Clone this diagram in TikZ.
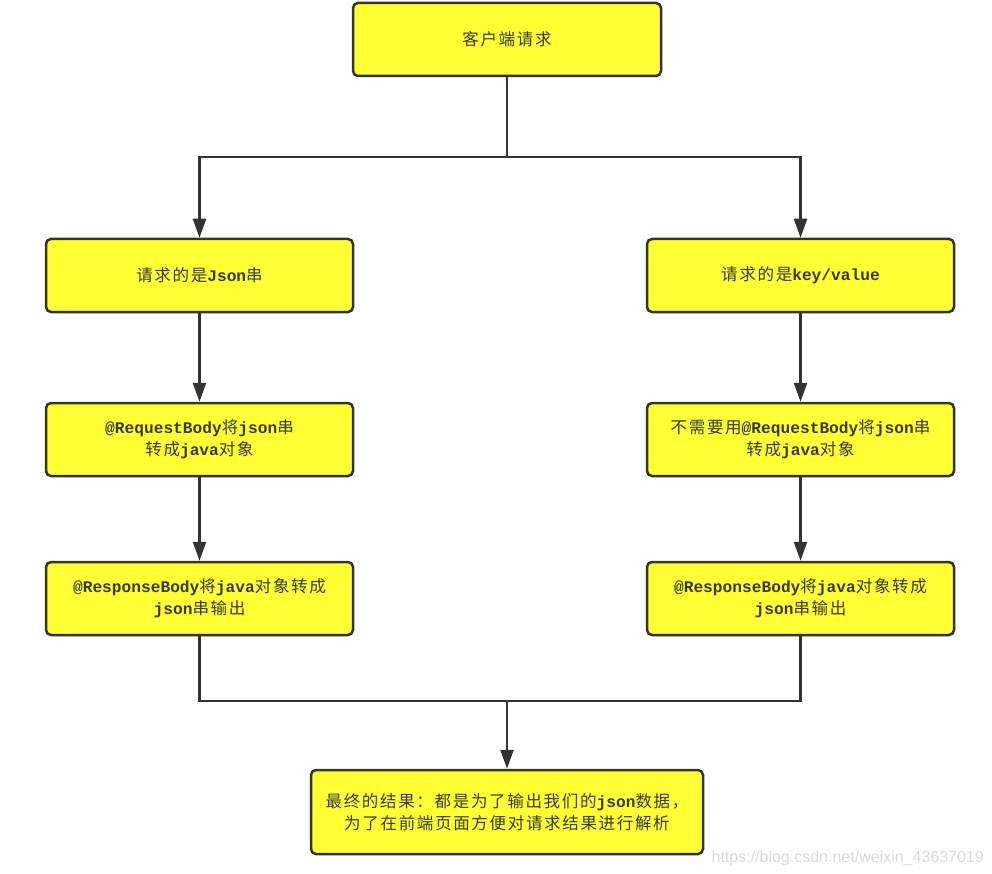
\documentclass[tikz,border=0pt]{standalone}
\usepackage{fontspec}
\setmainfont{Liberation Mono}
\newfontfamily\cjk{Noto Sans CJK SC}[Scale=1.02, LetterSpace=10]
\newfontfamily\wmfont{Liberation Sans}
\newcommand\zh[1]{{\cjk\mdseries #1}}
\usetikzlibrary{arrows.meta}
\definecolor{boxfill}{HTML}{FFFF33}
\definecolor{boxline}{HTML}{333333}
\definecolor{txt}{HTML}{3A3A2A}
\definecolor{wm}{HTML}{DADADA}
\tikzset{
  flowbox/.style={draw=boxline, line width=2.5pt, fill=boxfill, rounded corners=5pt,
    minimum width=307pt, minimum height=73pt, align=center, text=txt,
    font=\fontsize{16.2}{22}\selectfont\bfseries, inner sep=0pt},
  conn/.style={draw=boxline, line width=2.5pt},
  arr/.style={conn, -{Triangle[length=19pt,width=13pt]}}
}
\begin{document}
\begin{tikzpicture}[x=1pt,y=-1pt]
\useasboundingbox (0,0) rectangle (992,874);
\node[flowbox, minimum width=308pt] (top) at (507,39.5) {\zh{客户端请求}};
\node[flowbox] (L1) at (199.5,275.5) {\zh{请求的是}Json\zh{串}};
\node[flowbox] (L2) at (199.5,439.5) {@RequestBody\zh{将}json\zh{串}\\\zh{转成}java\zh{对象}};
\node[flowbox] (L3) at (199.5,598.5) {@ResponseBody\zh{将}java\zh{对象转成}\\json\zh{串输出}};
\node[flowbox] (R1) at (800.5,275.5) {\zh{请求的是}key/value};
\node[flowbox] (R2) at (800.5,439.5) {\zh{不需要用}@RequestBody\zh{将}json\zh{串}\\\zh{转成}java\zh{对象}};
\node[flowbox] (R3) at (800.5,598.5) {@ResponseBody\zh{将}java\zh{对象转成}\\json\zh{串输出}};
\node[flowbox, minimum width=392pt, minimum height=84pt] (bot) at (507,812) {\zh{最终的结果：都是为了输出我们的}json\zh{数据，}\\\zh{为了在前端页面方便对请求结果进行解析}};
\coordinate (split) at (507,157);
\coordinate (merge) at (507,701);
\draw[conn] (top.south) -- (split);
\draw[arr] (split) -| (L1.north);
\draw[arr] (split) -| (R1.north);
\draw[arr] (L1) -- (L2);
\draw[arr] (L2) -- (L3);
\draw[arr] (R1) -- (R2);
\draw[arr] (R2) -- (R3);
\draw[conn] (L3.south) |- (merge);
\draw[conn] (R3.south) |- (merge);
\draw[arr] (merge) -- (bot.north);
\node[anchor=base east, text=wm, font=\wmfont\fontsize{16}{18}\selectfont, inner sep=0pt] (wmark) at (984,862) {https://blog.csdn.net/weixin\_43637019};
\end{tikzpicture}
\end{document}
